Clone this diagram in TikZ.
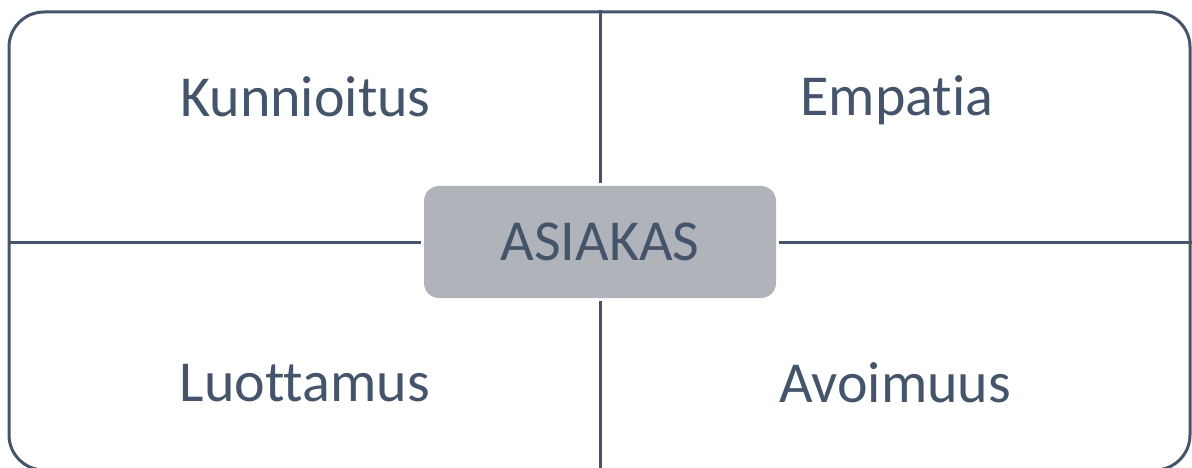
\documentclass[tikz,border=0pt]{standalone}
\usepackage{fontspec}
\setmainfont{Carlito}[Ligatures={NoCommon}]
\definecolor{ink}{HTML}{44546A}
\definecolor{boxfill}{HTML}{B0B3BA}
\begin{document}
\begin{tikzpicture}[x=1pt,y=-1pt,
  frame/.style={draw=ink,line width=3pt,rounded corners=35pt,minimum width=1181pt,minimum height=458pt,inner sep=0pt},
  hub/.style={fill=boxfill,rounded corners=15pt,minimum width=352pt,minimum height=112pt,inner sep=0pt,outer sep=3pt,text=ink,font=\fontsize{58}{64}\selectfont},
  label/.style={text=ink,font=\fontsize{58}{64}\selectfont,inner sep=0pt,anchor=base},
  divider/.style={draw=ink,line width=3pt}]
\useasboundingbox (0,0) rectangle (1192,468);
\node[frame] (f) at (599.5,241) {};
\node[hub] (c) at (600,242) {ASIAKAS};
\draw[divider] (f.north -| c.north) -- (c.north);
\draw[divider] (c.south) -- (f.south -| c.south);
\draw[divider] (f.west |- c.west) -- (c.west);
\draw[divider] (c.east) -- (f.east |- c.east);
\node[label] (k) at (305.5,117) {Kunnioitus};
\node[label] (e) at (897,115.5) {Empatia};
\node[label] (l) at (305,401) {Luottamus};
\node[label] (a) at (895,402) {Avoimuus};
\end{tikzpicture}
\end{document}
